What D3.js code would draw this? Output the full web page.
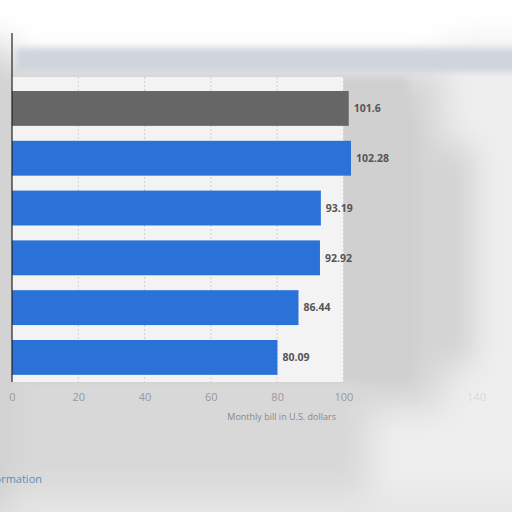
<!DOCTYPE html>
<html>
<head>
<meta charset="utf-8">
<script src="https://cdn.jsdelivr.net/npm/d3@7"></script>
<style>
  body { margin: 0; background: #fff; }
  text { font-family: "Open Sans", "DejaVu Sans", sans-serif; }
</style>
</head>
<body>
<div id="chart"></div>
<script>
// data (category names are cut off on the left)
const categories = ["c1", "c2", "c3", "c4", "c5", "c6"];
const values = [101.6, 102.28, 93.19, 92.92, 86.44, 80.09];
const barColors = ["#666666", "#2a72d8", "#2a72d8", "#2a72d8", "#2a72d8", "#2a72d8"];
const xTicks = [0, 20, 40, 60, 80, 100, 120, 140];

const width = 512, height = 512;
const margin = { top: 77, right: 36, bottom: 130, left: 12 };

const svg = d3.select("#chart").append("svg")
    .attr("width", width)
    .attr("height", height);

// blurred backdrop
const defs = svg.append("defs");
defs.append("filter").attr("id", "blur")
    .attr("filterUnits", "userSpaceOnUse")
    .attr("x", -100).attr("y", -100).attr("width", 800).attr("height", 800)
    .append("feGaussianBlur").attr("stdDeviation", 16);
defs.append("filter").attr("id", "blurSmall")
    .attr("filterUnits", "userSpaceOnUse")
    .attr("x", -100).attr("y", -100).attr("width", 800).attr("height", 800)
    .append("feGaussianBlur").attr("stdDeviation", 3);

const bg = svg.append("g").attr("filter", "url(#blur)");
bg.append("rect").attr("x", -40).attr("y", 62).attr("width", 600).attr("height", 480).attr("fill", "#d8d8d8");
bg.append("rect").attr("x", 445).attr("y", 40).attr("width", 120).attr("height", 500).attr("fill", "#eeeeee");
bg.append("rect").attr("x", 370).attr("y", 410).attr("width", 200).attr("height", 140).attr("fill", "#eeeeee");
bg.append("rect").attr("x", 372).attr("y", 100).attr("width", 40).attr("height", 280).attr("fill", "#c6c6c6");
bg.append("rect").attr("x", 442).attr("y", 145).attr("width", 30).attr("height", 220).attr("fill", "#cecece");
bg.append("rect").attr("x", -40).attr("y", 492).attr("width", 600).attr("height", 60).attr("fill", "#e6e6e6");
bg.append("rect").attr("x", -20).attr("y", 40).attr("width", 26).attr("height", 480).attr("fill", "#cccccc");

// top strip
svg.append("rect")
    .attr("x", 16).attr("y", 48).attr("width", 520).attr("height", 24)
    .attr("fill", "#d0d4dc")
    .attr("filter", "url(#blurSmall)");

const x = d3.scaleLinear()
    .domain([0, 140])
    .range([margin.left, width - margin.right]);

const y = d3.scaleBand()
    .domain(categories)
    .range([91, 91 + 5.7 * 49.8])
    .paddingInner(0.3)
    .paddingOuter(0);

const plotBottom = 382;

// plot panel
svg.append("rect")
    .attr("x", margin.left)
    .attr("y", margin.top)
    .attr("width", x(100) - margin.left + 66)
    .attr("height", plotBottom - margin.top)
    .attr("rx", 8)
    .attr("fill", "#d0d0d0")
    .attr("filter", "url(#blurSmall)");
svg.append("rect")
    .attr("x", margin.left)
    .attr("y", margin.top)
    .attr("width", x(100) - margin.left)
    .attr("height", plotBottom - margin.top)
    .attr("fill", "#f3f3f3");

// grid lines
svg.append("g")
    .selectAll("line")
    .data(xTicks.filter(d => d > 0 && d <= 100))
    .join("line")
    .attr("x1", d => x(d))
    .attr("x2", d => x(d))
    .attr("y1", margin.top)
    .attr("y2", plotBottom)
    .attr("stroke", "#cfcfcf")
    .attr("stroke-dasharray", "2,2");

// bars
svg.append("g")
    .selectAll("rect")
    .data(values)
    .join("rect")
    .attr("x", x(0))
    .attr("y", (d, i) => y(categories[i]))
    .attr("width", d => x(d) - x(0))
    .attr("height", y.bandwidth())
    .attr("fill", (d, i) => barColors[i]);

// value labels
svg.append("g")
    .selectAll("text")
    .data(values)
    .join("text")
    .attr("x", d => x(d) + 5)
    .attr("y", (d, i) => y(categories[i]) + y.bandwidth() / 2)
    .attr("dy", "0.35em")
    .attr("font-size", 10.5)
    .attr("font-weight", "bold")
    .attr("fill", "#555")
    .text(d => d);

// left axis line
svg.append("line")
    .attr("x1", x(0)).attr("x2", x(0))
    .attr("y1", 33).attr("y2", plotBottom)
    .attr("stroke", "#222")
    .attr("stroke-width", 1.2);

// x axis
const xAxis = svg.append("g")
    .attr("transform", `translate(0,${plotBottom})`)
    .call(d3.axisBottom(x).tickValues(xTicks).tickSize(0).tickPadding(11));
xAxis.select(".domain").remove();
xAxis.selectAll("text")
    .attr("font-size", 11)
    .attr("fill", d => d > 100 ? "#dadada" : "#999");

svg.append("text")
    .attr("x", 336)
    .attr("y", 420)
    .attr("text-anchor", "end")
    .attr("font-size", 9)
    .attr("fill", "#888")
    .text("Monthly bill in U.S. dollars");

svg.append("text")
    .attr("x", 42)
    .attr("y", 483)
    .attr("text-anchor", "end")
    .attr("font-size", 11)
    .attr("fill", "#5b8db8")
    .text("Additional Information");
</script>
</body>
</html>
